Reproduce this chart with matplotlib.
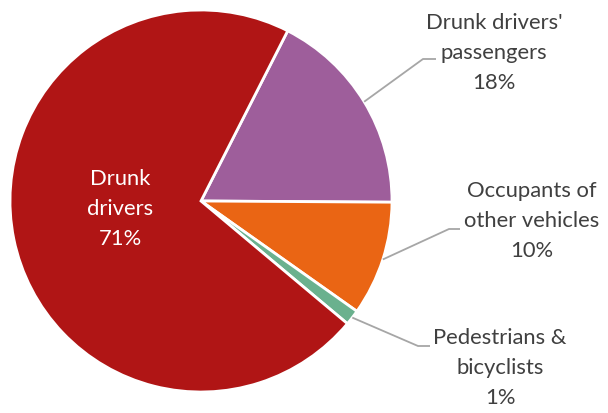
import matplotlib.pyplot as plt
import numpy as np

labels = ["Drunk drivers'\npassengers", "Occupants of\nother vehicles", "Pedestrians &\nbicyclists", "Drunk\ndrivers"]
shares = [17.6, 9.7, 1.3, 71.4]
colors = ['#9E5E9B', '#EA6514', '#6AB18E', '#B01515']

plt.rcParams['font.family'] = ['Lato', 'DejaVu Sans']

fig = plt.figure(figsize=(6.08, 4.13), dpi=100)
ax = fig.add_axes([0, 0, 1, 1])

cx, cy, r = 201, 212, 191
start = 63.0  # where the purple slice begins
wedges, _ = ax.pie(shares, colors=colors, startangle=start, counterclock=False,
                   center=(cx, cy), radius=r, frame=True,
                   wedgeprops=dict(edgecolor='white', linewidth=2))
ax.set_xlim(0, 608)
ax.set_ylim(0, 413)
ax.axis('off')

txt = '#404040'
line = '#A6A6A6'
# elbow point, end point, text centre (pixel coords from top)
callouts = [((423, 59), (436, 59), (494, 53)),
            ((449, 229), (460, 229), (532, 221)),
            ((418, 346), (430, 346), (500, 368))]

for i, (elb, end, tc) in enumerate(callouts):
    w = wedges[i]
    mid = np.deg2rad((w.theta1 + w.theta2) / 2)
    sx, sy = cx + r * np.cos(mid), cy + r * np.sin(mid)
    ax.plot([sx, elb[0], end[0]], [sy, 413 - elb[1], 413 - end[1]],
            color=line, lw=1.3, solid_capstyle='butt')
    ax.text(tc[0], 413 - tc[1], labels[i] + '\n' + '%.0f%%' % shares[i],
            ha='center', va='center', color=txt, fontsize=15.8, linespacing=1.6)

ax.text(120, 413 - 209, labels[3] + '\n' + '%.0f%%' % shares[3], ha='center', va='center',
        color='white', fontsize=15.8, linespacing=1.6)

fig.savefig('out.png', dpi=100)
